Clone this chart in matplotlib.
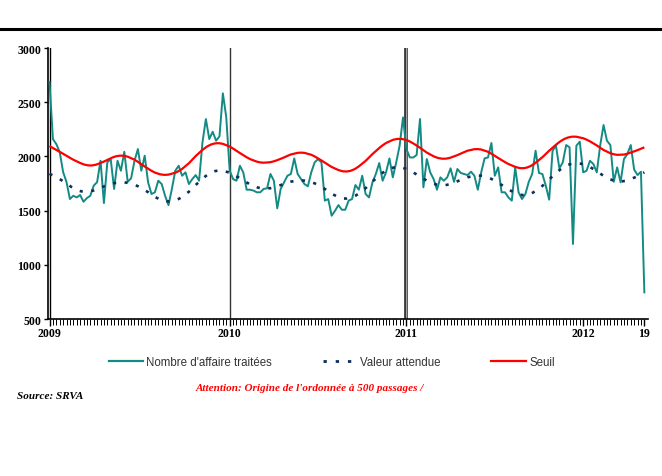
import numpy as np
import matplotlib
matplotlib.use("Agg")
import matplotlib.pyplot as plt
from matplotlib.lines import Line2D
from matplotlib.path import Path
from matplotlib.patches import PathPatch

## weekly counts, 2009 week 1 to 2012 week 19
affaires = [
    2686, 2160, 2114, 2040, 1856, 1763, 1607, 1637, 1622, 1644,
    1582, 1616, 1637, 1730, 1763, 1960, 1570, 1945, 1976, 1700,
    1960, 1868, 2043, 1766, 1798, 1960, 2068, 1868, 2007, 1761,
    1653, 1669, 1776, 1745, 1637, 1551, 1700, 1868, 1914, 1822,
    1853, 1745, 1791, 1828, 1776, 2130, 2345, 2160, 2228, 2145,
    2185, 2582, 2360, 1870, 1791, 1776, 1914, 1853, 1693, 1693,
    1685, 1669, 1669, 1700, 1706, 1838, 1776, 1521, 1700, 1761,
    1822, 1838, 1982, 1838, 1791, 1745, 1724, 1853, 1945, 1976,
    1945, 1592, 1607, 1453, 1499, 1551, 1508, 1508, 1592, 1607,
    1736, 1693, 1822, 1653, 1622, 1761, 1838, 1939, 1776, 1853,
    1982, 1807, 1945, 2099, 2360, 2068, 1991, 1990, 2013, 2345,
    1715, 1976, 1853, 1791, 1693, 1807, 1776, 1807, 1890, 1766,
    1884, 1847, 1838, 1828, 1859, 1822, 1693, 1853, 1982, 1991,
    2124, 1822, 1899, 1669, 1669, 1622, 1592, 1899, 1669, 1607,
    1653, 1766, 1838, 2053, 1847, 1838, 1730, 1601, 2053, 2099,
    1890, 1945, 2105, 2084, 1192, 2099, 2136, 1853, 1868, 1960,
    1930, 1853, 2099, 2290, 2145, 2105, 1766, 1899, 1761, 1976,
    2022, 2105, 1878, 1828, 1859, 746,
]

## expected value and threshold, read every 4 weeks
curve_weeks = list(range(0, 176, 4)) + [175]
attendue = [
    1840, 1776, 1680, 1670, 1725, 1766, 1755, 1695, 1600, 1576,
    1640, 1770, 1870, 1870, 1800, 1720, 1695, 1735, 1780, 1778,
    1725, 1630, 1600, 1675, 1800, 1897, 1905, 1835, 1755, 1724,
    1770, 1822, 1825, 1760, 1672, 1630, 1695, 1820, 1925, 1945,
    1890, 1795, 1760, 1800, 1853,
]
seuil = [
    2095, 2025, 1950, 1905, 1950, 2015, 1995, 1905, 1830, 1830,
    1900, 2040, 2128, 2115, 2030, 1955, 1935, 1975, 2035, 2035,
    1965, 1880, 1850, 1925, 2055, 2150, 2170, 2105, 2010, 1968,
    2010, 2070, 2065, 1985, 1910, 1880, 1960, 2085, 2180, 2185,
    2125, 2035, 2005, 2045, 2084,
]

year_weeks = [0, 53, 105, 157, 175]
year_labels = ['2009', '2010', '2011', '2012', '19']
y_ticks = [500, 1000, 1500, 2000, 2500, 3000]

serif = 'Liberation Serif'
sans = 'Liberation Sans'

teal = '#138a84'
navy = '#0d2f5e'
red = '#ff0000'
navy_ls = (0, (1.2, 3.2))


def smooth_path(xs, ys):
    ## quadratic bezier through the midpoints, data points as controls
    pts = np.column_stack([xs, ys]).astype(float)
    mids = (pts[:-1] + pts[1:]) / 2
    verts = [pts[0], mids[0]]
    codes = [Path.MOVETO, Path.LINETO]
    for i in range(1, len(pts) - 1):
        verts += [pts[i], mids[i]]
        codes += [Path.CURVE3, Path.CURVE3]
    verts.append(pts[-1])
    codes.append(Path.LINETO)
    return Path(verts, codes)


fig = plt.figure(figsize=(6.62, 4.77), dpi=100)
ax = fig.add_axes([0.0725, 0.3291, 0.907, 0.5681])

weeks = np.arange(len(affaires))
ax.plot(weeks, affaires, color=teal, lw=1.4, zorder=3)
ax.add_patch(PathPatch(smooth_path(curve_weeks, attendue), fill=False, edgecolor=navy,
                       lw=1.9, linestyle=navy_ls, zorder=3))
ax.add_patch(PathPatch(smooth_path(curve_weeks, seuil), fill=False, edgecolor=red,
                       lw=1.6, zorder=3))

## year separators
ax.axvline(0, color='black', lw=1.0, zorder=2)
ax.axvline(53, color='#333333', lw=1.0, zorder=2)
ax.axvline(105, color='#222222', lw=2.6, zorder=2)
ax.axvline(105, color='#a0a0a0', lw=1.0, zorder=2)

ax.set_xlim(-0.45, 176.2)
ax.set_ylim(500, 3000)
for side in ['top', 'right']:
    ax.spines[side].set_visible(False)
ax.spines['left'].set_linewidth(1.2)
ax.spines['bottom'].set_linewidth(1.2)

ax.set_yticks(y_ticks)
ax.set_yticklabels([str(v) for v in y_ticks], fontfamily=serif, fontweight='bold', fontsize=8.5)
ax.tick_params(axis='y', direction='out', length=3, width=1, pad=2)

ax.set_xticks(year_weeks)
ax.set_xticklabels(year_labels, fontfamily=serif, fontweight='bold', fontsize=8.5)
ax.set_xticks(np.arange(0, 176), minor=True)
ax.tick_params(axis='x', which='major', direction='out', length=5, width=1, pad=1)
ax.tick_params(axis='x', which='minor', direction='out', length=4, width=0.7)

## top rule across the page
fig.add_artist(Line2D([0, 1], [0.937, 0.937], color='black', lw=2.2, transform=fig.transFigure))

handles = [
    Line2D([], [], color=teal, lw=1.6),
    Line2D([], [], color=navy, lw=2.0, linestyle=navy_ls),
    Line2D([], [], color=red, lw=1.6),
]
labels = ["Nombre d'affaire traitées", 'Valeur attendue', 'Seuil']
leg = fig.legend(handles, labels, loc='center', bbox_to_anchor=(0.501, 0.239), ncol=3,
                 frameon=False, handlelength=3.0, handletextpad=0.26, columnspacing=4.4,
                 prop={'family': sans, 'size': 8.3})
for t in leg.get_texts():
    t.set_color('#333333')

fig.text(0.026, 0.163, 'Source: SRVA', fontfamily=serif, fontweight='bold',
         fontstyle='italic', fontsize=8, color='black')
fig.text(0.295, 0.180, "Attention: Origine de l'ordonnée à 500 passages /", fontfamily=serif,
         fontweight='bold', fontstyle='italic', fontsize=8, color=red)

fig.savefig('out.png', dpi=100)
